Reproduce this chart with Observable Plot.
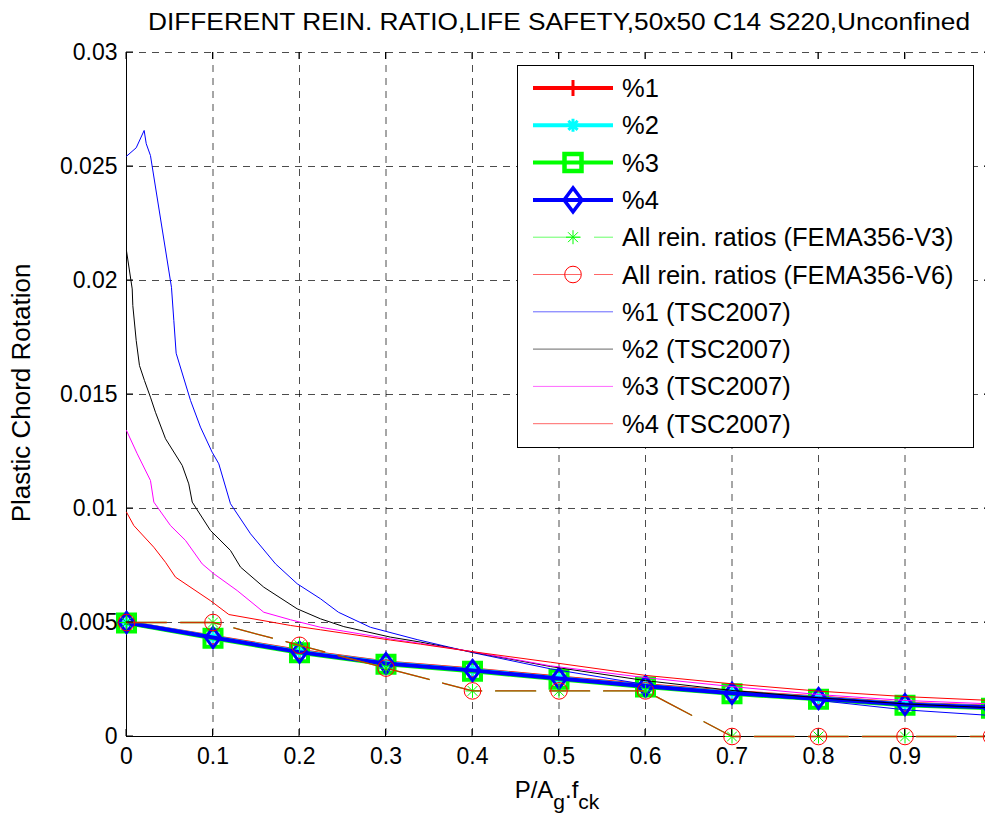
<!DOCTYPE html>
<html>
<head>
<meta charset="utf-8">
<script src="https://cdn.jsdelivr.net/npm/d3@7"></script>
<script src="https://cdn.jsdelivr.net/npm/@observablehq/plot@0.6"></script>
<style>
html, body { margin: 0; padding: 0; background: #fff; overflow: hidden; }
#chart { position: relative; width: 985px; height: 819px; overflow: hidden; }
#chart svg { max-width: none !important; display: block; }
</style>
</head>
<body>
<div id="chart"></div>
<script>
// ---------- data ----------
const xTicks = [0, 0.1, 0.2, 0.3, 0.4, 0.5, 0.6, 0.7, 0.8, 0.9];
const yTicks = [0, 0.005, 0.01, 0.015, 0.02, 0.025, 0.03];

const axialRatio = [0, 0.1, 0.2, 0.3, 0.4, 0.5, 0.6, 0.7, 0.8, 0.9, 1.0];
const ratio1 = [0.00500, 0.00438, 0.00375, 0.00325, 0.00294, 0.00259, 0.00225, 0.00195, 0.00171, 0.00144, 0.00131];
const ratio2 = [0.00500, 0.00435, 0.00372, 0.00322, 0.00291, 0.00256, 0.00222, 0.00192, 0.00168, 0.00141, 0.00128];
const ratio3 = [0.00498, 0.00431, 0.00367, 0.00317, 0.00286, 0.00251, 0.00217, 0.00187, 0.00163, 0.00137, 0.00124];
const ratio4 = [0.00500, 0.00434, 0.00370, 0.00320, 0.00290, 0.00254, 0.00220, 0.00190, 0.00167, 0.00140, 0.00127];

const femaV3 = [0.005, 0.005, 0.004, 0.003, 0.002, 0.002, 0.002, 0, 0, 0, 0];
const femaV6 = [0.005, 0.005, 0.004, 0.003, 0.002, 0.002, 0.002, 0, 0, 0, 0];

const tsc1X = [0, 0.0112, 0.0204, 0.0228, 0.0277, 0.052, 0.0547, 0.0574, 0.074, 0.0855, 0.099, 0.1067, 0.1202, 0.1434, 0.1723, 0.1973, 0.2243, 0.245, 0.282, 0.336, 0.4, 0.49, 0.6, 0.7, 0.8, 0.9, 1.0];
const tsc1Y = [0.02545, 0.02582, 0.02658, 0.0260, 0.02548, 0.0197, 0.01825, 0.01681, 0.01474, 0.01357, 0.01247, 0.01196, 0.01021, 0.00889, 0.00757, 0.0067, 0.00604, 0.00545, 0.00479, 0.00425, 0.00368, 0.00297, 0.00228, 0.00187, 0.00158, 0.00117, 0.00092];

const tsc2X = [0, 0.0066, 0.0073, 0.0112, 0.015, 0.0208, 0.0277, 0.0335, 0.0451, 0.0644, 0.072, 0.076, 0.097, 0.1202, 0.1318, 0.1587, 0.1973, 0.2243, 0.2512, 0.305, 0.34, 0.4, 0.49, 0.6, 0.7, 0.8, 0.9, 1.0];
const tsc2Y = [0.02130, 0.01963, 0.0189, 0.01737, 0.01627, 0.01561, 0.01488, 0.01422, 0.01306, 0.01189, 0.01108, 0.01028, 0.00904, 0.00816, 0.00743, 0.00655, 0.0056, 0.00516, 0.00482, 0.00436, 0.00414, 0.0037, 0.00307, 0.00245, 0.00202, 0.0017, 0.00143, 0.00126];

const tsc3X = [0, 0.0124, 0.0277, 0.0316, 0.0509, 0.0682, 0.0875, 0.1009, 0.128, 0.1587, 0.1896, 0.2243, 0.2512, 0.305, 0.34, 0.4, 0.49, 0.6, 0.7, 0.8, 0.9, 1.0];
const tsc3Y = [0.01342, 0.0124, 0.01123, 0.01028, 0.00925, 0.0086, 0.00757, 0.00714, 0.0064, 0.00545, 0.00512, 0.00479, 0.00462, 0.00428, 0.00408, 0.00372, 0.0031, 0.00258, 0.00219, 0.00184, 0.00158, 0.00143];

const tsc4X = [0, 0.0085, 0.0316, 0.0451, 0.0566, 0.097, 0.1183, 0.1896, 0.2243, 0.305, 0.34, 0.4, 0.49, 0.6, 0.7, 0.8, 0.9, 1.0];
const tsc4Y = [0.00984, 0.00925, 0.0083, 0.00764, 0.00699, 0.00596, 0.00535, 0.00487, 0.00468, 0.00423, 0.00405, 0.00372, 0.00326, 0.00268, 0.00231, 0.00199, 0.00175, 0.00158];

const titleText = "DIFFERENT REIN. RATIO,LIFE SAFETY,50x50 C14 S220,Unconfined";
const yLabelText = "Plastic Chord Rotation";
const legendLabels = ["%1", "%2", "%3", "%4", "All rein. ratios (FEMA356-V3)", "All rein. ratios (FEMA356-V6)", "%1 (TSC2007)", "%2 (TSC2007)", "%3 (TSC2007)", "%4 (TSC2007)"];

// ---------- helpers ----------
const pts = (xs, ys) => xs.map((x, i) => ({x, y: ys[i]}));
const sym = (fn) => ({draw(ctx, size) { fn(ctx, Math.sqrt(size / Math.PI)); }});
const plusSym = sym((c, r) => { c.moveTo(-r, 0); c.lineTo(r, 0); c.moveTo(0, -r); c.lineTo(0, r); });
const starSym = sym((c, r) => { const d = r * 0.7071; c.moveTo(-r, 0); c.lineTo(r, 0); c.moveTo(0, -r); c.lineTo(0, r); c.moveTo(-d, -d); c.lineTo(d, d); c.moveTo(-d, d); c.lineTo(d, -d); });
const squareSym = sym((c, r) => { c.moveTo(-r, -r); c.lineTo(r, -r); c.lineTo(r, r); c.lineTo(-r, r); c.closePath(); });
const diamondSym = sym((c, r) => { const w = r * 0.75; c.moveTo(0, -r); c.lineTo(w, 0); c.lineTo(0, r); c.lineTo(-w, 0); c.closePath(); });
const circleSym = sym((c, r) => { c.moveTo(r, 0); c.arc(0, 0, r, 0, 2 * Math.PI); });

const modelStyles = [
  {ys: ratio1, color: "#ff0000", symbol: plusSym, r: 8, msw: 2.5},
  {ys: ratio2, color: "#00ffff", symbol: starSym, r: 6, msw: 2.5},
  {ys: ratio3, color: "#00ff00", symbol: squareSym, r: 8.5, msw: 4},
  {ys: ratio4, color: "#0000ff", symbol: diamondSym, r: 10, msw: 3}
];
const femaStyles = [
  {ys: femaV3, color: "#00ff00", symbol: starSym, r: 7, opacity: 1},
  {ys: femaV6, color: "#ff0000", symbol: circleSym, r: 8.3, opacity: 0.8}
];
const tscStyles = [
  {xs: tsc1X, ys: tsc1Y, color: "#0000ff"},
  {xs: tsc2X, ys: tsc2Y, color: "#000000"},
  {xs: tsc3X, ys: tsc3Y, color: "#ff00ff"},
  {xs: tsc4X, ys: tsc4Y, color: "#ff0000"}
];

const FONT = "'Liberation Sans', Arial, Helvetica, sans-serif";
const gridStyle = {stroke: "#000", strokeOpacity: 0.7, strokeDasharray: "7,6", strokeWidth: 1};

const marks = [
  Plot.gridX(xTicks, gridStyle),
  Plot.gridY(yTicks, gridStyle),
  Plot.ruleX([0], {stroke: "#000", strokeWidth: 1}),
  Plot.ruleY([0], {stroke: "#000", strokeWidth: 1})
];
for (const s of modelStyles) {
  const d = pts(axialRatio, s.ys);
  marks.push(Plot.line(d, {x: "x", y: "y", stroke: s.color, strokeWidth: 4}));
  marks.push(Plot.dot(d, {x: "x", y: "y", symbol: s.symbol, r: s.r, stroke: s.color, strokeWidth: s.msw, fill: "none"}));
}
for (const s of femaStyles) {
  const d = pts(axialRatio, s.ys);
  marks.push(Plot.line(d, {x: "x", y: "y", stroke: s.color, strokeWidth: 1.3, strokeOpacity: s.opacity, strokeDasharray: "40,14"}));
  marks.push(Plot.dot(d, {x: "x", y: "y", symbol: s.symbol, r: s.r, stroke: s.color, strokeWidth: 1, fill: "none"}));
}
for (const s of tscStyles) {
  marks.push(Plot.line(pts(s.xs, s.ys), {x: "x", y: "y", stroke: s.color, strokeWidth: 1}));
}
marks.push(Plot.axisX(xTicks, {tickSize: 0, tickPadding: 11, label: null, tickFormat: d => String(d)}));
marks.push(Plot.axisY(yTicks, {tickSize: 0, tickPadding: 9, label: null, tickFormat: d => String(d)}));

const chart = Plot.plot({
  width: 1010,
  height: 819,
  marginLeft: 126,
  marginRight: 19,
  marginTop: 52,
  marginBottom: 83,
  x: {domain: [0, 1]},
  y: {domain: [0, 0.03]},
  style: {fontFamily: FONT, fontSize: "23px", color: "#000", background: "#fff", maxWidth: "none"},
  marks
});
document.getElementById("chart").appendChild(chart);

// ---------- decorations through the plot's scales ----------
const sx = chart.scale("x"), sy = chart.scale("y");
const svg = d3.select(chart);
const x0 = sx.apply(0), x1 = sx.apply(1), y0 = sy.apply(0), y1 = sy.apply(0.03);
const tk = 7;
const gT = svg.append("g").attr("stroke", "#000").attr("stroke-width", 1);
for (const t of xTicks) {
  const px = sx.apply(t);
  gT.append("line").attr("x1", px).attr("x2", px).attr("y1", y0).attr("y2", y0 - tk);
  gT.append("line").attr("x1", px).attr("x2", px).attr("y1", y1).attr("y2", y1 + tk);
}
for (const t of yTicks) {
  const py = sy.apply(t);
  gT.append("line").attr("x1", x0).attr("x2", x0 + tk).attr("y1", py).attr("y2", py);
  gT.append("line").attr("x1", x1).attr("x2", x1 - tk).attr("y1", py).attr("y2", py);
}

// title
svg.append("text")
  .attr("x", 148).attr("y", 30).attr("text-anchor", "start")
  .attr("textLength", 822).attr("lengthAdjust", "spacingAndGlyphs")
  .style("font-family", FONT).style("font-size", "23px").attr("fill", "#000")
  .text(titleText);

// y label
svg.append("text")
  .attr("transform", `translate(30, ${(y0 + y1) / 2 - 1}) rotate(-90)`)
  .attr("text-anchor", "middle")
  .style("font-family", FONT).style("font-size", "26px").attr("fill", "#000")
  .text(yLabelText);

// x label with subscripts
const xl = svg.append("text")
  .attr("x", 557).attr("y", 798).attr("text-anchor", "middle")
  .style("font-family", FONT).style("font-size", "24px").attr("fill", "#000");
xl.append("tspan").text("P/A");
xl.append("tspan").attr("dy", 11).style("font-size", "21px").text("g");
xl.append("tspan").attr("dy", -11).text(".f");
xl.append("tspan").attr("dy", 11).style("font-size", "21px").text("ck");

// legend
const lg = svg.append("g");
lg.append("rect").attr("x", 517.5).attr("y", 65.5).attr("width", 456).attr("height", 382)
  .attr("fill", "#fff").attr("stroke", "#000").attr("stroke-width", 1);
const rowY = (i) => 88 + i * 37.3;
const symPath = (type, r) => d3.symbol().type(type).size(Math.PI * r * r)();
const legendMarkerR = [8, 6.5, 8.5, 12];
legendLabels.forEach((label, i) => {
  const y = rowY(i);
  if (i < 4) {
    const s = modelStyles[i];
    lg.append("line").attr("x1", 533).attr("x2", 613).attr("y1", y).attr("y2", y).attr("stroke", s.color).attr("stroke-width", 4);
    lg.append("path").attr("d", symPath(s.symbol, legendMarkerR[i])).attr("transform", `translate(573,${y})`)
      .attr("fill", "none").attr("stroke", s.color).attr("stroke-width", i === 1 ? 3 : s.msw + 0.5);
  } else if (i < 6) {
    const s = femaStyles[i - 4];
    lg.append("line").attr("x1", 533).attr("x2", 613).attr("y1", y).attr("y2", y).attr("stroke", s.color).attr("stroke-opacity", 0.6).attr("stroke-width", 1).attr("stroke-dasharray", "48,13");
    lg.append("path").attr("d", symPath(s.symbol, s.r)).attr("transform", `translate(573,${y})`)
      .attr("fill", "none").attr("stroke", s.color).attr("stroke-width", 1);
  } else {
    const s = tscStyles[i - 6];
    lg.append("line").attr("x1", 533).attr("x2", 613).attr("y1", y).attr("y2", y).attr("stroke", s.color).attr("stroke-opacity", 0.6).attr("stroke-width", 1);
  }
  lg.append("text").attr("x", 622).attr("y", y + 9).attr("text-anchor", "start")
    .style("font-family", FONT).style("font-size", "25.5px").attr("fill", "#000").text(label);
});
</script>
</body>
</html>
